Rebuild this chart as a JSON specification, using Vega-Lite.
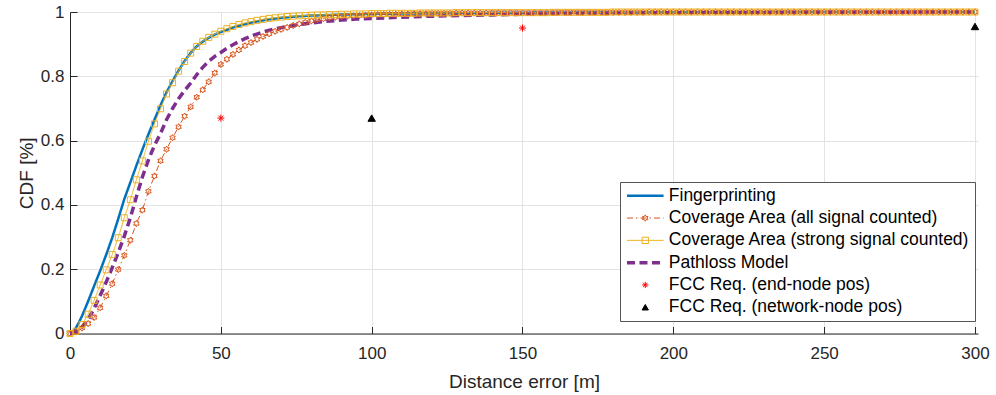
{
  "$schema": "https://vega.github.io/schema/vega-lite/v6.json",
  "width": 908,
  "height": 321.5,
  "autosize": {"type": "none"},
  "padding": {"left": 70, "top": 12, "right": 18, "bottom": 61.5},
  "background": "white",
  "config": {
    "view": {"stroke": null},
    "font": "Liberation Sans",
    "axis": {
      "grid": true, "gridColor": "#e3e3e3", "gridWidth": 1,
      "domainColor": "#262626", "domainWidth": 1,
      "tickColor": "#262626", "tickSize": -7, "tickWidth": 1,
      "labelColor": "#262626", "labelFontSize": 17, "labelFont": "Liberation Sans", "labelFlush": false,
      "titleColor": "#262626", "titleFontSize": 19, "titleFontWeight": "normal", "titleFont": "Liberation Sans"
    }
  },
  "datasets": {
    "fp": [
      {"s":"A","x":0,"y":0},{"s":"A","x":1,"y":0.003},{"s":"A","x":2,"y":0.018},{"s":"A","x":3,"y":0.035},{"s":"A","x":4,"y":0.055},{"s":"A","x":6,"y":0.1},{"s":"A","x":8,"y":0.148},{"s":"A","x":10,"y":0.195},{"s":"A","x":12,"y":0.245},{"s":"A","x":14,"y":0.298},{"s":"A","x":16,"y":0.357},{"s":"A","x":18,"y":0.418},{"s":"A","x":20,"y":0.47},{"s":"A","x":22,"y":0.522},{"s":"A","x":24,"y":0.572},{"s":"A","x":26,"y":0.62},{"s":"A","x":28,"y":0.665},{"s":"A","x":30,"y":0.71},{"s":"A","x":32,"y":0.75},{"s":"A","x":34,"y":0.785},{"s":"A","x":36,"y":0.818},{"s":"A","x":38,"y":0.848},{"s":"A","x":40,"y":0.873},{"s":"A","x":42,"y":0.893},{"s":"A","x":44,"y":0.908},{"s":"A","x":46,"y":0.92},{"s":"A","x":48,"y":0.93},{"s":"A","x":50,"y":0.938},{"s":"A","x":55,"y":0.955},{"s":"A","x":60,"y":0.967},{"s":"A","x":65,"y":0.976},{"s":"A","x":70,"y":0.982},{"s":"A","x":75,"y":0.986},{"s":"A","x":80,"y":0.989},{"s":"A","x":90,"y":0.992},{"s":"A","x":100,"y":0.994},{"s":"A","x":120,"y":0.996},{"s":"A","x":150,"y":0.998},{"s":"A","x":200,"y":0.999},{"s":"A","x":250,"y":1},{"s":"A","x":300,"y":1}
    ],
    "pl": [
      {"s":"D","x":0,"y":0},{"s":"D","x":2,"y":0.005},{"s":"D","x":4,"y":0.02},{"s":"D","x":6,"y":0.043},{"s":"D","x":8,"y":0.078},{"s":"D","x":10,"y":0.118},{"s":"D","x":12,"y":0.16},{"s":"D","x":14,"y":0.205},{"s":"D","x":16,"y":0.252},{"s":"D","x":18,"y":0.303},{"s":"D","x":20,"y":0.36},{"s":"D","x":22,"y":0.425},{"s":"D","x":24,"y":0.487},{"s":"D","x":26,"y":0.54},{"s":"D","x":28,"y":0.585},{"s":"D","x":30,"y":0.622},{"s":"D","x":32,"y":0.665},{"s":"D","x":34,"y":0.7},{"s":"D","x":36,"y":0.73},{"s":"D","x":38,"y":0.756},{"s":"D","x":40,"y":0.779},{"s":"D","x":42,"y":0.805},{"s":"D","x":44,"y":0.828},{"s":"D","x":46,"y":0.847},{"s":"D","x":48,"y":0.862},{"s":"D","x":50,"y":0.874},{"s":"D","x":52,"y":0.887},{"s":"D","x":54,"y":0.898},{"s":"D","x":56,"y":0.908},{"s":"D","x":58,"y":0.917},{"s":"D","x":60,"y":0.925},{"s":"D","x":64,"y":0.938},{"s":"D","x":68,"y":0.948},{"s":"D","x":72,"y":0.955},{"s":"D","x":76,"y":0.961},{"s":"D","x":80,"y":0.966},{"s":"D","x":85,"y":0.971},{"s":"D","x":90,"y":0.975},{"s":"D","x":95,"y":0.978},{"s":"D","x":100,"y":0.98},{"s":"D","x":110,"y":0.984},{"s":"D","x":120,"y":0.987},{"s":"D","x":130,"y":0.989},{"s":"D","x":140,"y":0.991},{"s":"D","x":150,"y":0.993},{"s":"D","x":160,"y":0.994},{"s":"D","x":175,"y":0.996},{"s":"D","x":200,"y":0.998},{"s":"D","x":250,"y":0.999},{"s":"D","x":300,"y":1}
    ],
    "covs": [
      {"s":"C","x":0,"y":0},{"s":"C","x":2,"y":0.007},{"s":"C","x":4,"y":0.028},{"s":"C","x":6,"y":0.06},{"s":"C","x":8,"y":0.103},{"s":"C","x":10,"y":0.151},{"s":"C","x":12,"y":0.198},{"s":"C","x":14,"y":0.246},{"s":"C","x":16,"y":0.298},{"s":"C","x":18,"y":0.36},{"s":"C","x":20,"y":0.416},{"s":"C","x":22,"y":0.478},{"s":"C","x":24,"y":0.537},{"s":"C","x":26,"y":0.598},{"s":"C","x":28,"y":0.652},{"s":"C","x":30,"y":0.699},{"s":"C","x":32,"y":0.745},{"s":"C","x":34,"y":0.78},{"s":"C","x":36,"y":0.816},{"s":"C","x":38,"y":0.846},{"s":"C","x":40,"y":0.872},{"s":"C","x":42,"y":0.893},{"s":"C","x":44,"y":0.909},{"s":"C","x":46,"y":0.921},{"s":"C","x":48,"y":0.931},{"s":"C","x":50,"y":0.94},{"s":"C","x":52,"y":0.948},{"s":"C","x":54,"y":0.955},{"s":"C","x":56,"y":0.961},{"s":"C","x":58,"y":0.966},{"s":"C","x":60,"y":0.97},{"s":"C","x":62,"y":0.974},{"s":"C","x":64,"y":0.977},{"s":"C","x":66,"y":0.98},{"s":"C","x":68,"y":0.982},{"s":"C","x":70,"y":0.984},{"s":"C","x":72,"y":0.986},{"s":"C","x":74,"y":0.987},{"s":"C","x":76,"y":0.988},{"s":"C","x":78,"y":0.989},{"s":"C","x":80,"y":0.99},{"s":"C","x":82,"y":0.991},{"s":"C","x":84,"y":0.991},{"s":"C","x":86,"y":0.992},{"s":"C","x":88,"y":0.992},{"s":"C","x":90,"y":0.993},{"s":"C","x":92,"y":0.993},{"s":"C","x":94,"y":0.994},{"s":"C","x":96,"y":0.994},{"s":"C","x":98,"y":0.994},{"s":"C","x":100,"y":0.995},{"s":"C","x":102,"y":0.995},{"s":"C","x":104,"y":0.995},{"s":"C","x":106,"y":0.996},{"s":"C","x":108,"y":0.996},{"s":"C","x":110,"y":0.996},{"s":"C","x":112,"y":0.996},{"s":"C","x":114,"y":0.996},{"s":"C","x":116,"y":0.997},{"s":"C","x":118,"y":0.997},{"s":"C","x":120,"y":0.997},{"s":"C","x":122,"y":0.997},{"s":"C","x":124,"y":0.997},{"s":"C","x":126,"y":0.997},{"s":"C","x":128,"y":0.998},{"s":"C","x":130,"y":0.998},{"s":"C","x":132,"y":0.998},{"s":"C","x":134,"y":0.998},{"s":"C","x":136,"y":0.998},{"s":"C","x":138,"y":0.998},{"s":"C","x":140,"y":0.998},{"s":"C","x":142,"y":0.998},{"s":"C","x":144,"y":0.998},{"s":"C","x":146,"y":0.998},{"s":"C","x":148,"y":0.998},{"s":"C","x":150,"y":0.998},{"s":"C","x":152,"y":0.998},{"s":"C","x":154,"y":0.998},{"s":"C","x":156,"y":0.998},{"s":"C","x":158,"y":0.998},{"s":"C","x":160,"y":0.999},{"s":"C","x":162,"y":0.999},{"s":"C","x":164,"y":0.999},{"s":"C","x":166,"y":0.999},{"s":"C","x":168,"y":0.999},{"s":"C","x":170,"y":0.999},{"s":"C","x":172,"y":0.999},{"s":"C","x":174,"y":0.999},{"s":"C","x":176,"y":0.999},{"s":"C","x":178,"y":0.999},{"s":"C","x":180,"y":1},{"s":"C","x":182,"y":1},{"s":"C","x":184,"y":1},{"s":"C","x":186,"y":1},{"s":"C","x":188,"y":1},{"s":"C","x":190,"y":1},{"s":"C","x":192,"y":1},{"s":"C","x":194,"y":1},{"s":"C","x":196,"y":1},{"s":"C","x":198,"y":1},{"s":"C","x":200,"y":1},{"s":"C","x":202,"y":1},{"s":"C","x":204,"y":1},{"s":"C","x":206,"y":1},{"s":"C","x":208,"y":1},{"s":"C","x":210,"y":1},{"s":"C","x":212,"y":1},{"s":"C","x":214,"y":1},{"s":"C","x":216,"y":1},{"s":"C","x":218,"y":1},{"s":"C","x":220,"y":1},{"s":"C","x":222,"y":1},{"s":"C","x":224,"y":1},{"s":"C","x":226,"y":1},{"s":"C","x":228,"y":1},{"s":"C","x":230,"y":1},{"s":"C","x":232,"y":1},{"s":"C","x":234,"y":1},{"s":"C","x":236,"y":1},{"s":"C","x":238,"y":1},{"s":"C","x":240,"y":1},{"s":"C","x":242,"y":1},{"s":"C","x":244,"y":1},{"s":"C","x":246,"y":1},{"s":"C","x":248,"y":1},{"s":"C","x":250,"y":1},{"s":"C","x":252,"y":1},{"s":"C","x":254,"y":1},{"s":"C","x":256,"y":1},{"s":"C","x":258,"y":1},{"s":"C","x":260,"y":1},{"s":"C","x":262,"y":1},{"s":"C","x":264,"y":1},{"s":"C","x":266,"y":1},{"s":"C","x":268,"y":1},{"s":"C","x":270,"y":1},{"s":"C","x":272,"y":1},{"s":"C","x":274,"y":1},{"s":"C","x":276,"y":1},{"s":"C","x":278,"y":1},{"s":"C","x":280,"y":1},{"s":"C","x":282,"y":1},{"s":"C","x":284,"y":1},{"s":"C","x":286,"y":1},{"s":"C","x":288,"y":1},{"s":"C","x":290,"y":1},{"s":"C","x":292,"y":1},{"s":"C","x":294,"y":1},{"s":"C","x":296,"y":1},{"s":"C","x":298,"y":1},{"s":"C","x":300,"y":1}
    ],
    "cova": [
      {"s":"B","x":0,"y":0},{"s":"B","x":2,"y":0.005},{"s":"B","x":4,"y":0.017},{"s":"B","x":6,"y":0.031},{"s":"B","x":8,"y":0.05},{"s":"B","x":10,"y":0.08},{"s":"B","x":12,"y":0.117},{"s":"B","x":14,"y":0.155},{"s":"B","x":16,"y":0.199},{"s":"B","x":18,"y":0.243},{"s":"B","x":20,"y":0.29},{"s":"B","x":22,"y":0.342},{"s":"B","x":24,"y":0.384},{"s":"B","x":26,"y":0.442},{"s":"B","x":28,"y":0.49},{"s":"B","x":30,"y":0.537},{"s":"B","x":32,"y":0.573},{"s":"B","x":34,"y":0.609},{"s":"B","x":36,"y":0.643},{"s":"B","x":38,"y":0.676},{"s":"B","x":40,"y":0.705},{"s":"B","x":42,"y":0.735},{"s":"B","x":44,"y":0.758},{"s":"B","x":46,"y":0.783},{"s":"B","x":48,"y":0.81},{"s":"B","x":50,"y":0.837},{"s":"B","x":52,"y":0.853},{"s":"B","x":54,"y":0.868},{"s":"B","x":56,"y":0.882},{"s":"B","x":58,"y":0.895},{"s":"B","x":60,"y":0.905},{"s":"B","x":62,"y":0.915},{"s":"B","x":64,"y":0.924},{"s":"B","x":66,"y":0.932},{"s":"B","x":68,"y":0.94},{"s":"B","x":70,"y":0.946},{"s":"B","x":72,"y":0.952},{"s":"B","x":74,"y":0.958},{"s":"B","x":76,"y":0.963},{"s":"B","x":78,"y":0.968},{"s":"B","x":80,"y":0.972},{"s":"B","x":82,"y":0.976},{"s":"B","x":84,"y":0.979},{"s":"B","x":86,"y":0.982},{"s":"B","x":88,"y":0.984},{"s":"B","x":90,"y":0.986},{"s":"B","x":92,"y":0.987},{"s":"B","x":94,"y":0.988},{"s":"B","x":96,"y":0.989},{"s":"B","x":98,"y":0.99},{"s":"B","x":100,"y":0.991},{"s":"B","x":102,"y":0.992},{"s":"B","x":104,"y":0.992},{"s":"B","x":106,"y":0.993},{"s":"B","x":108,"y":0.993},{"s":"B","x":110,"y":0.994},{"s":"B","x":112,"y":0.994},{"s":"B","x":114,"y":0.995},{"s":"B","x":116,"y":0.995},{"s":"B","x":118,"y":0.995},{"s":"B","x":120,"y":0.996},{"s":"B","x":122,"y":0.996},{"s":"B","x":124,"y":0.996},{"s":"B","x":126,"y":0.996},{"s":"B","x":128,"y":0.997},{"s":"B","x":130,"y":0.997},{"s":"B","x":132,"y":0.997},{"s":"B","x":134,"y":0.997},{"s":"B","x":136,"y":0.997},{"s":"B","x":138,"y":0.997},{"s":"B","x":140,"y":0.998},{"s":"B","x":142,"y":0.998},{"s":"B","x":144,"y":0.998},{"s":"B","x":146,"y":0.998},{"s":"B","x":148,"y":0.998},{"s":"B","x":150,"y":0.998},{"s":"B","x":152,"y":0.998},{"s":"B","x":154,"y":0.998},{"s":"B","x":156,"y":0.998},{"s":"B","x":158,"y":0.998},{"s":"B","x":160,"y":0.998},{"s":"B","x":162,"y":0.999},{"s":"B","x":164,"y":0.999},{"s":"B","x":166,"y":0.999},{"s":"B","x":168,"y":0.999},{"s":"B","x":170,"y":0.999},{"s":"B","x":172,"y":0.999},{"s":"B","x":174,"y":0.999},{"s":"B","x":176,"y":0.999},{"s":"B","x":178,"y":0.999},{"s":"B","x":180,"y":0.999},{"s":"B","x":182,"y":0.999},{"s":"B","x":184,"y":0.999},{"s":"B","x":186,"y":0.999},{"s":"B","x":188,"y":0.999},{"s":"B","x":190,"y":0.999},{"s":"B","x":192,"y":1},{"s":"B","x":194,"y":1},{"s":"B","x":196,"y":1},{"s":"B","x":198,"y":1},{"s":"B","x":200,"y":1},{"s":"B","x":202,"y":1},{"s":"B","x":204,"y":1},{"s":"B","x":206,"y":1},{"s":"B","x":208,"y":1},{"s":"B","x":210,"y":1},{"s":"B","x":212,"y":1},{"s":"B","x":214,"y":1},{"s":"B","x":216,"y":1},{"s":"B","x":218,"y":1},{"s":"B","x":220,"y":1},{"s":"B","x":222,"y":1},{"s":"B","x":224,"y":1},{"s":"B","x":226,"y":1},{"s":"B","x":228,"y":1},{"s":"B","x":230,"y":1},{"s":"B","x":232,"y":1},{"s":"B","x":234,"y":1},{"s":"B","x":236,"y":1},{"s":"B","x":238,"y":1},{"s":"B","x":240,"y":1},{"s":"B","x":242,"y":1},{"s":"B","x":244,"y":1},{"s":"B","x":246,"y":1},{"s":"B","x":248,"y":1},{"s":"B","x":250,"y":1},{"s":"B","x":252,"y":1},{"s":"B","x":254,"y":1},{"s":"B","x":256,"y":1},{"s":"B","x":258,"y":1},{"s":"B","x":260,"y":1},{"s":"B","x":262,"y":1},{"s":"B","x":264,"y":1},{"s":"B","x":266,"y":1},{"s":"B","x":268,"y":1},{"s":"B","x":270,"y":1},{"s":"B","x":272,"y":1},{"s":"B","x":274,"y":1},{"s":"B","x":276,"y":1},{"s":"B","x":278,"y":1},{"s":"B","x":280,"y":1},{"s":"B","x":282,"y":1},{"s":"B","x":284,"y":1},{"s":"B","x":286,"y":1},{"s":"B","x":288,"y":1},{"s":"B","x":290,"y":1},{"s":"B","x":292,"y":1},{"s":"B","x":294,"y":1},{"s":"B","x":296,"y":1},{"s":"B","x":298,"y":1},{"s":"B","x":300,"y":1}
    ],
    "fccEnd": [{"s":"E","x":50,"y":0.67},{"s":"E","x":150,"y":0.95}],
    "fccNet": [{"s":"F","x":100,"y":0.67},{"s":"F","x":300,"y":0.955}]
  },
  "encoding": {
    "x": {"field": "x", "type": "quantitative", "scale": {"domain": [0, 301], "nice": false, "zero": false},
      "axis": {"title": "Distance error [m]", "values": [0,50,100,150,200,250,300], "format": "d", "labelPadding": 19, "titlePadding": 11}},
    "y": {"field": "y", "type": "quantitative", "scale": {"domain": [0, 1], "nice": false},
      "axis": {"title": "CDF [%]", "values": [0,0.2,0.4,0.6,0.8,1], "format": "~g", "labelPadding": 13, "titlePadding": 4}}
  },
  "layer": [
    {
      "layer": [
        {"data": {"name": "fp"}, "mark": {"type": "line"}},
        {"data": {"name": "cova"}, "mark": {"type": "line"}},
        {"data": {"name": "covs"}, "mark": {"type": "line"}},
        {"data": {"name": "pl"}, "mark": {"type": "line"}}
      ],
      "encoding": {
        "color": {"field": "s", "type": "nominal",
          "scale": {"domain": ["A","B","C","D","E","F"], "range": ["#0072BD", "#D95319", "#EDB120", "#7E2F8E", "#FF0000", "#000000"]},
          "legend": {"orient": "none", "legendX": 550, "legendY": 170, "title": null, "zindex": 1,
            "symbolType": "M-1.13,0H4.97", "symbolSize": 144, "symbolOpacity": 1,
            "labelFont": "Liberation Sans", "labelFontSize": 17.5, "labelColor": "#000000", "labelOffset": 26.3, "labelLimit": 500,
            "rowPadding": 3.3, "padding": 5, "fillColor": "#ffffff", "strokeColor": "#555555", "cornerRadius": 0,
            "labelExpr": "datum.label == 'A' ? 'Fingerprinting' : datum.label == 'B' ? 'Coverage Area (all signal counted)' : datum.label == 'C' ? 'Coverage Area (strong signal counted)' : datum.label == 'D' ? 'Pathloss Model' : datum.label == 'E' ? 'FCC Req. (end-node pos)' : 'FCC Req. (network-node pos)'"}},
        "strokeDash": {"field": "s", "type": "nominal",
          "scale": {"domain": ["A","B","C","D","E","F"], "range": [[1,0], [6,3,1.5,3], [1,0], [8,4.5], [0,50], [0,50]]},
          "legend": {"orient": "none", "legendX": 550, "legendY": 170, "title": null, "zindex": 1,
            "symbolType": "M-1.13,0H4.97", "symbolSize": 144, "symbolOpacity": 1,
            "labelFont": "Liberation Sans", "labelFontSize": 17.5, "labelColor": "#000000", "labelOffset": 26.3, "labelLimit": 500,
            "rowPadding": 3.3, "padding": 5, "fillColor": "#ffffff", "strokeColor": "#555555", "cornerRadius": 0,
            "labelExpr": "datum.label == 'A' ? 'Fingerprinting' : datum.label == 'B' ? 'Coverage Area (all signal counted)' : datum.label == 'C' ? 'Coverage Area (strong signal counted)' : datum.label == 'D' ? 'Pathloss Model' : datum.label == 'E' ? 'FCC Req. (end-node pos)' : 'FCC Req. (network-node pos)'"}},
        "strokeWidth": {"field": "s", "type": "nominal",
          "scale": {"type": "ordinal", "domain": ["A","B","C","D","E","F"], "range": [2.5, 1, 1, 3.5, 0, 0]},
          "legend": {"orient": "none", "legendX": 550, "legendY": 170, "title": null, "zindex": 1,
            "symbolType": "M-1.13,0H4.97", "symbolSize": 144, "symbolOpacity": 1,
            "labelFont": "Liberation Sans", "labelFontSize": 17.5, "labelColor": "#000000", "labelOffset": 26.3, "labelLimit": 500,
            "rowPadding": 3.3, "padding": 5, "fillColor": "#ffffff", "strokeColor": "#555555", "cornerRadius": 0,
            "labelExpr": "datum.label == 'A' ? 'Fingerprinting' : datum.label == 'B' ? 'Coverage Area (all signal counted)' : datum.label == 'C' ? 'Coverage Area (strong signal counted)' : datum.label == 'D' ? 'Pathloss Model' : datum.label == 'E' ? 'FCC Req. (end-node pos)' : 'FCC Req. (network-node pos)'"}}
      }
    },
    {
      "layer": [
        {"data": {"name": "cova"}, "mark": {"type": "point", "filled": false, "size": 40, "strokeWidth": 1, "opacity": 1}},
        {"data": {"name": "covs"}, "mark": {"type": "point", "filled": false, "size": 36, "strokeWidth": 1, "opacity": 1}},
        {"data": {"name": "fccEnd"}, "mark": {"type": "point", "filled": false, "size": 50, "strokeWidth": 1, "opacity": 1}},
        {"data": {"name": "fccNet"}, "mark": {"type": "point", "filled": false, "size": 55, "strokeWidth": 1, "opacity": 1}}
      ],
      "encoding": {
        "shape": {"field": "s", "type": "nominal",
          "scale": {"domain": ["A","B","C","D","E","F","Z"],
            "range": ["circle", "M0,-1L-0.289,-0.5L-0.866,-0.5L-0.577,0L-0.866,0.5L-0.289,0.5L0,1L0.289,0.5L0.866,0.5L0.577,0L0.866,-0.5L0.289,-0.5Z", "square", "circle", "M-1,0H1M0,-1V1M-0.7,-0.7L0.7,0.7M-0.7,0.7L0.7,-0.7", "triangle-up", "circle"]},
          "legend": {"orient": "none", "legendX": 550, "legendY": 170, "title": null, "zindex": 2,
            "values": ["A","B","C","D","E","F"], "symbolSize": 40, "symbolOffset": 11.5, "symbolStrokeWidth": 1, "symbolOpacity": 1,
            "labelFont": "Liberation Sans", "labelFontSize": 17.5, "labelOpacity": 0, "labelOffset": 26.3, "labelLimit": 500,
            "rowPadding": 3.3, "padding": 5,
            "labelExpr": "' '"}},
        "stroke": {"field": "s", "type": "nominal",
          "scale": {"domain": ["A","B","C","D","E","F","Z"], "range": ["transparent", "#D95319", "#EDB120", "transparent", "#FF0000", "#000000", "transparent"]},
          "legend": {"orient": "none", "legendX": 550, "legendY": 170, "title": null, "zindex": 2,
            "values": ["A","B","C","D","E","F"], "symbolSize": 40, "symbolOffset": 11.5, "symbolStrokeWidth": 1, "symbolOpacity": 1,
            "labelFont": "Liberation Sans", "labelFontSize": 17.5, "labelOpacity": 0, "labelOffset": 26.3, "labelLimit": 500,
            "rowPadding": 3.3, "padding": 5,
            "labelExpr": "' '"}},
        "fill": {"field": "s", "type": "nominal",
          "scale": {"domain": ["A","B","C","D","E","F","Z"], "range": ["transparent", "transparent", "transparent", "transparent", "transparent", "#000000", "transparent"]},
          "legend": {"orient": "none", "legendX": 550, "legendY": 170, "title": null, "zindex": 2,
            "values": ["A","B","C","D","E","F"], "symbolSize": 40, "symbolOffset": 11.5, "symbolStrokeWidth": 1, "symbolOpacity": 1,
            "labelFont": "Liberation Sans", "labelFontSize": 17.5, "labelOpacity": 0, "labelOffset": 26.3, "labelLimit": 500,
            "rowPadding": 3.3, "padding": 5,
            "labelExpr": "' '"}}
      }
    }
  ]
}
